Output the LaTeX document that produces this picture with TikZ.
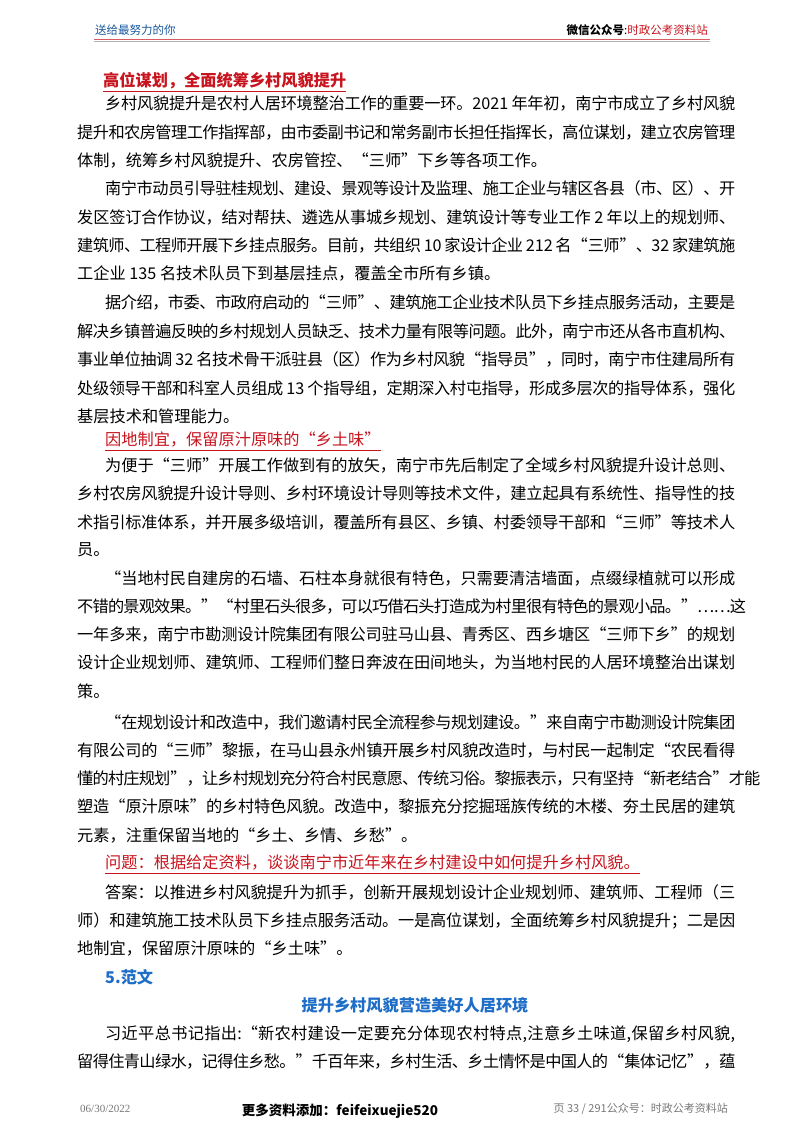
\documentclass[tikz,border=0pt]{standalone}
\usepackage{fontspec}
\setmainfont{Noto Sans CJK SC}
\newfontfamily\serifL{Liberation Serif}
\newfontfamily\fw[RawFeature=+fwid]{Noto Sans CJK SC}
\def\qo{{\fw “}}\def\qc{{\fw ”}}
\XeTeXinterchartokenstate=1
\newcount\cc
\cc="3000 \loop \XeTeXcharclass\cc=1 \advance\cc 1 \ifnum\cc<"A000 \repeat
\cc="FF00 \loop \XeTeXcharclass\cc=1 \advance\cc 1 \ifnum\cc<"FFF0 \repeat
\XeTeXcharclass"201C=1 \XeTeXcharclass"201D=1 \XeTeXcharclass"2026=1
\XeTeXinterchartoks 1 1 = {\hskip 0pt plus 4pt minus 0.8pt\relax}
\XeTeXinterchartoks 0 1 = {\hskip 0pt plus 4pt minus 0.8pt\relax}
\XeTeXinterchartoks 1 0 = {\hskip 0pt plus 4pt minus 0.8pt\relax}
\definecolor{hred}{RGB}{200,20,30}
\definecolor{hblue}{RGB}{30,110,200}
\definecolor{hgray}{RGB}{120,120,120}
\tikzset{txt/.style={anchor=base west,inner sep=0pt,font=\fontsize{16.2}{20}\selectfont}}
\newcommand\JL[4]{\node[txt] (#1) at (#2,-#3-6) {\hbox to \dimexpr735pt-#2pt\relax{#4}};}
\newcommand\PL[4]{\node[txt] (#1) at (#2,-#3-6) {#4};}
\begin{document}
\begin{tikzpicture}[x=1pt,y=1pt]
\useasboundingbox[fill=white] (0,0) rectangle (800,-1132);
% header
\node[anchor=base west,inner sep=0,font=\fontsize{11.5}{13}\selectfont,text=hblue!80!black] (hl) at (95,-35) {送给最努力的你};
\node[anchor=base east,inner sep=0,font=\fontsize{11.5}{13}\selectfont] (hr) at (708,-35) {\textbf{微信公众号}:\textcolor{hred}{时政公考资料站}};
\draw[hred!70,line width=0.8pt] (94,-39) coordinate (r1) -- (710,-39) coordinate (r2);
\draw[gray!60,line width=0.4pt] (94,-41) coordinate (r3) -- (710,-41) coordinate (r4);
% title
\node[txt,text=hred,font=\fontsize{16.2}{20}\selectfont\bfseries] (t1) at (103,-86) {高位谋划，全面统筹乡村风貌提升};
\draw[hred,line width=0.8pt] ([yshift=-3pt]t1.south west) coordinate (u1) -- ([yshift=-3pt]t1.south east) coordinate (u2);
\JL{a1}{105}{103}{乡村风貌提升是农村人居环境整治工作的重要一环。2021 年年初，南宁市成立了乡村风貌}
\JL{a2}{77}{132}{提升和农房管理工作指挥部，由市委副书记和常务副市长担任指挥长，高位谋划，建立农房管理}
\PL{a3}{77}{160}{体制，统筹乡村风貌提升、农房管控、\qo 三师\qc 下乡等各项工作。}
\JL{b1}{105}{188}{南宁市动员引导驻桂规划、建设、景观等设计及监理、施工企业与辖区各县（市、区）、开}
\JL{b2}{77}{217}{发区签订合作协议，结对帮扶、遴选从事城乡规划、建筑设计等专业工作 2 年以上的规划师、}
\JL{b3}{77}{245}{建筑师、工程师开展下乡挂点服务。目前，共组织 10 家设计企业 212 名\qo 三师\qc 、32 家建筑施}
\PL{b4}{77}{273}{工企业 135 名技术队员下到基层挂点，覆盖全市所有乡镇。}
\JL{c1}{105}{302}{据介绍，市委、市政府启动的\qo 三师\qc 、建筑施工企业技术队员下乡挂点服务活动，主要是}
\JL{c2}{77}{331}{解决乡镇普遍反映的乡村规划人员缺乏、技术力量有限等问题。此外，南宁市还从各市直机构、}
\JL{c3}{77}{359}{事业单位抽调 32 名技术骨干派驻县（区）作为乡村风貌\qo 指导员\qc ，同时，南宁市住建局所有}
\JL{c4}{77}{388}{处级领导干部和科室人员组成 13 个指导组，定期深入村屯指导，形成多层次的指导体系，强化}
\PL{c5}{77}{416}{基层技术和管理能力。}
\node[txt,text=hred] (t2) at (105,-445) {因地制宜，保留原汁原味的\qo 乡土味\qc};
\draw[hred,line width=0.6pt] ([yshift=-3pt]t2.south west) coordinate (u3) -- ([yshift=-3pt]t2.south east) coordinate (u4);
\JL{d1}{105}{465}{为便于\qo 三师\qc 开展工作做到有的放矢，南宁市先后制定了全域乡村风貌提升设计总则、}
\JL{d2}{77}{493}{乡村农房风貌提升设计导则、乡村环境设计导则等技术文件，建立起具有系统性、指导性的技}
\JL{d3}{77}{522}{术指引标准体系，并开展多级培训，覆盖所有县区、乡镇、村委领导干部和\qo 三师\qc 等技术人}
\PL{d4}{77}{549}{员。}
\JL{e1}{105}{578}{\qo 当地村民自建房的石墙、石柱本身就很有特色，只需要清洁墙面，点缀绿植就可以形成}
\JL{e2}{77}{606}{不错的景观效果。\qc\qo 村里石头很多，可以巧借石头打造成为村里很有特色的景观小品。\qc ……这}
\JL{e3}{77}{634}{一年多来，南宁市勘测设计院集团有限公司驻马山县、青秀区、西乡塘区\qo 三师下乡\qc 的规划}
\JL{e4}{77}{662}{设计企业规划师、建筑师、工程师们整日奔波在田间地头，为当地村民的人居环境整治出谋划}
\PL{e5}{77}{691}{策。}
\JL{f1}{105}{722}{\qo 在规划设计和改造中，我们邀请村民全流程参与规划建设。\qc 来自南宁市勘测设计院集团}
\JL{f2}{77}{750}{有限公司的\qo 三师\qc 黎振，在马山县永州镇开展乡村风貌改造时，与村民一起制定\qo 农民看得}
\JL{f3}{77}{778}{懂的村庄规划\qc ，让乡村规划充分符合村民意愿、传统习俗。黎振表示，只有坚持\qo 新老结合\qc 才能}
\JL{f4}{77}{806}{塑造\qo 原汁原味\qc 的乡村特色风貌。改造中，黎振充分挖掘瑶族传统的木楼、夯土民居的建筑}
\PL{f5}{77}{835}{元素，注重保留当地的\qo 乡土、乡情、乡愁\qc 。}
\node[txt,text=hred] (q) at (105,-868) {问题：根据给定资料，谈谈南宁市近年来在乡村建设中如何提升乡村风貌。};
\draw[hred,line width=0.5pt] ([yshift=-3pt]q.south west) coordinate (u5) -- ([yshift=-3pt]q.south east) coordinate (u6);
\JL{g1}{105}{892}{答案：以推进乡村风貌提升为抓手，创新开展规划设计企业规划师、建筑师、工程师（三}
\JL{g2}{77}{920}{师）和建筑施工技术队员下乡挂点服务活动。一是高位谋划，全面统筹乡村风貌提升；二是因}
\PL{g3}{77}{948}{地制宜，保留原汁原味的\qo 乡土味\qc 。}
\node[txt,text=hblue,font=\fontsize{16.2}{20}\selectfont\bfseries] (h5) at (105,-983) {5.范文};
\node[anchor=base,inner sep=0,text=hblue,font=\fontsize{16.2}{20}\selectfont\bfseries] (h6) at (415,-1011) {提升乡村风貌营造美好人居环境};
\JL{k1}{105}{1033}{习近平总书记指出:\qo 新农村建设一定要充分体现农村特点,注意乡土味道,保留乡村风貌,}
\JL{k2}{77}{1061}{留得住青山绿水，记得住乡愁。\qc 千百年来，乡村生活、乡土情怀是中国人的\qo 集体记忆\qc ，蕴}
% footer
\node[anchor=base west,inner sep=0,text=hgray,font=\serifL\fontsize{11}{13}\selectfont] (ft1) at (80,-1112) {06/30/2022};
\node[anchor=base,inner sep=0,font=\fontsize{13.5}{15}\selectfont\bfseries] (ft2) at (340,-1115) {更多资料添加：feifeixuejie520};
\node[anchor=base east,inner sep=0,text=hgray,font=\fontsize{11}{13}\selectfont] (ft3) at (728,-1112) {页 33 / 291公众号：时政公考资料站};
\end{tikzpicture}
\end{document}
